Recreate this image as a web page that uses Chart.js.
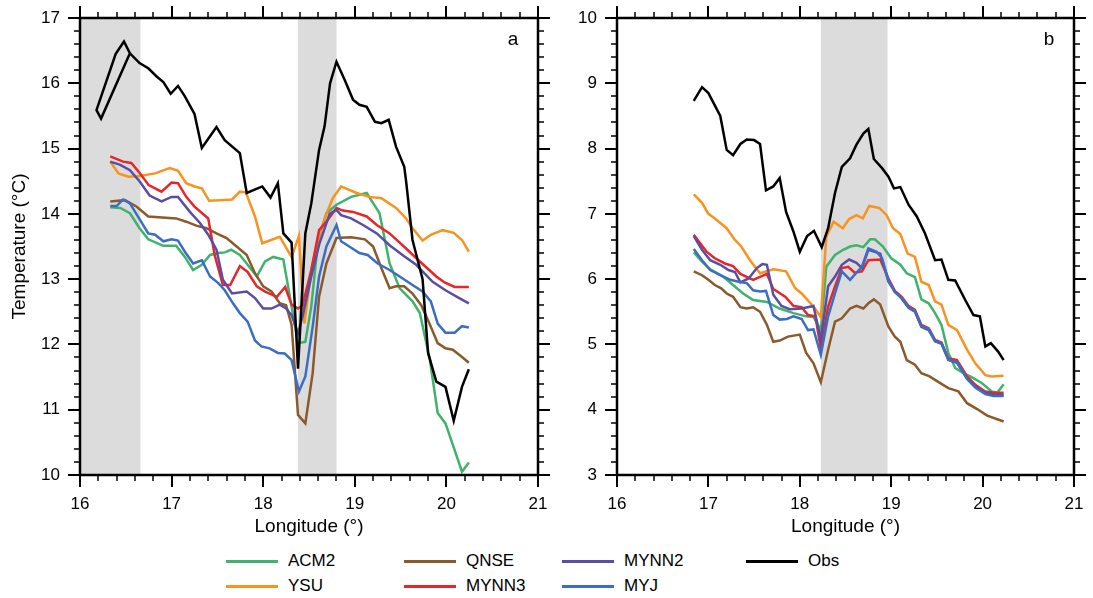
<!DOCTYPE html>
<html>
<head>
<meta charset="utf-8">
<script src="https://cdn.jsdelivr.net/npm/chart.js@4.4.0/dist/chart.umd.min.js"></script>
<style>
  body { margin: 0; width: 1093px; height: 598px; background: #fff; overflow: hidden; position: relative;
         font-family: "Liberation Sans", Arial, sans-serif; }
  #ca { position: absolute; left: 0; top: 0; }
  #cb { position: absolute; left: 550px; top: 0; }
  .leg { position: absolute; height: 20px; display: flex; align-items: center; font-size: 17px; color: #000; }
  .leg .ln { display: inline-block; width: 52px; height: 3px; margin-right: 10px; }
</style>
</head>
<body>
<canvas id="ca" width="550" height="545"></canvas>
<canvas id="cb" width="543" height="545"></canvas>
<div id="legend"></div>

<script>
// ---- panel a : [longitude, temperature] ----
const obsA = [[16.545,16.46],[16.23,15.46],[16.18,15.59],[16.39,16.45],[16.48,16.64],[16.545,16.46],[16.65,16.31],[16.745,16.23],[16.84,16.10],[16.91,16.02],[16.99,15.84],[17.07,15.96],[17.145,15.80],[17.25,15.53],[17.33,15.01],[17.49,15.33],[17.58,15.13],[17.745,14.93],[17.82,14.32],[17.99,14.42],[18.08,14.25],[18.16,14.47],[18.22,13.70],[18.31,13.56],[18.38,11.63],[18.46,13.70],[18.525,14.16],[18.61,14.98],[18.67,15.34],[18.73,16.0],[18.80,16.33],[18.89,16.05],[18.98,15.75],[19.05,15.67],[19.13,15.64],[19.22,15.41],[19.29,15.39],[19.37,15.44],[19.45,15.03],[19.54,14.72],[19.56,14.5],[19.63,13.6],[19.74,13.0],[19.80,11.87],[19.89,11.43],[19.99,11.35],[20.08,10.83],[20.17,11.35],[20.245,11.62]];
const acm2A = [[16.33,14.10],[16.44,14.09],[16.545,14.01],[16.65,13.78],[16.745,13.61],[16.91,13.51],[17.05,13.51],[17.145,13.34],[17.235,13.14],[17.33,13.22],[17.42,13.37],[17.51,13.40],[17.58,13.41],[17.65,13.45],[17.745,13.37],[17.83,13.22],[17.93,13.04],[18.02,13.27],[18.11,13.34],[18.22,13.30],[18.38,12.02],[18.46,12.04],[18.525,12.58],[18.60,13.60],[18.69,14.01],[18.80,14.14],[18.96,14.26],[19.13,14.32],[19.27,14.01],[19.38,13.24],[19.49,12.86],[19.63,12.66],[19.71,12.48],[19.82,11.76],[19.905,10.95],[19.99,10.79],[20.09,10.38],[20.17,10.05],[20.245,10.19]];
const ysuA = [[16.33,14.80],[16.42,14.62],[16.53,14.57],[16.65,14.58],[16.82,14.62],[16.98,14.70],[17.07,14.66],[17.16,14.47],[17.25,14.42],[17.33,14.39],[17.41,14.20],[17.53,14.21],[17.66,14.22],[17.745,14.34],[17.81,14.33],[17.91,13.96],[17.99,13.55],[18.18,13.65],[18.31,13.34],[18.39,13.66],[18.45,12.32],[18.525,13.14],[18.60,13.63],[18.69,14.0],[18.76,14.24],[18.85,14.42],[19.02,14.32],[19.16,14.26],[19.29,14.24],[19.45,14.09],[19.56,13.93],[19.63,13.78],[19.74,13.59],[19.83,13.68],[19.96,13.75],[20.08,13.71],[20.17,13.60],[20.245,13.42]];
const qnseA = [[16.33,14.19],[16.49,14.21],[16.62,14.11],[16.745,13.96],[17.05,13.93],[17.16,13.88],[17.27,13.82],[17.38,13.78],[17.49,13.70],[17.60,13.63],[17.71,13.50],[17.82,13.37],[17.91,13.09],[18.0,12.89],[18.09,12.81],[18.18,12.63],[18.25,12.60],[18.31,12.30],[18.38,10.92],[18.46,10.79],[18.54,11.56],[18.61,12.73],[18.69,13.24],[18.80,13.63],[18.96,13.64],[19.11,13.61],[19.20,13.50],[19.29,13.17],[19.38,12.86],[19.45,12.89],[19.54,12.89],[19.63,12.78],[19.725,12.60],[19.815,12.32],[19.905,12.02],[19.99,11.94],[20.07,11.92],[20.16,11.82],[20.245,11.72]];
const mynn3A = [[16.33,14.88],[16.47,14.80],[16.56,14.78],[16.65,14.63],[16.75,14.44],[16.89,14.34],[17.0,14.48],[17.07,14.47],[17.16,14.26],[17.25,14.11],[17.40,13.93],[17.47,13.37],[17.56,12.91],[17.64,12.91],[17.745,13.20],[17.83,13.11],[17.93,12.89],[18.02,12.81],[18.15,12.73],[18.24,12.88],[18.31,12.61],[18.38,12.55],[18.43,12.60],[18.525,13.14],[18.61,13.75],[18.69,13.88],[18.80,14.09],[18.87,14.05],[18.98,14.03],[19.13,13.96],[19.24,13.83],[19.38,13.70],[19.56,13.47],[19.71,13.27],[19.89,13.04],[19.98,12.95],[20.09,12.88],[20.245,12.88]];
const mynn2A = [[16.33,14.80],[16.44,14.75],[16.545,14.67],[16.65,14.50],[16.76,14.28],[16.89,14.19],[17.0,14.26],[17.07,14.26],[17.20,14.03],[17.31,13.86],[17.40,13.68],[17.49,13.45],[17.56,12.99],[17.66,12.78],[17.82,12.81],[17.91,12.71],[18.0,12.55],[18.09,12.55],[18.18,12.61],[18.25,12.55],[18.31,12.45],[18.38,12.17],[18.43,12.43],[18.525,13.04],[18.615,13.55],[18.725,14.0],[18.80,14.06],[18.85,13.98],[18.96,13.93],[19.09,13.83],[19.24,13.70],[19.38,13.52],[19.52,13.37],[19.67,13.22],[19.85,12.96],[19.99,12.83],[20.14,12.71],[20.245,12.63]];
const myjA = [[16.33,14.12],[16.40,14.12],[16.47,14.22],[16.545,14.16],[16.65,13.92],[16.745,13.70],[16.82,13.68],[16.91,13.58],[17.0,13.61],[17.07,13.59],[17.145,13.42],[17.235,13.24],[17.33,13.29],[17.42,13.04],[17.51,12.94],[17.58,12.83],[17.67,12.63],[17.745,12.48],[17.83,12.35],[17.91,12.06],[17.98,11.97],[18.07,11.94],[18.16,11.87],[18.235,11.86],[18.31,11.76],[18.39,11.28],[18.46,11.51],[18.54,12.27],[18.61,13.04],[18.69,13.50],[18.80,13.83],[18.85,13.58],[18.94,13.50],[19.05,13.40],[19.14,13.37],[19.25,13.24],[19.38,13.14],[19.49,13.04],[19.63,12.91],[19.74,12.81],[19.83,12.66],[19.905,12.32],[19.99,12.18],[20.09,12.18],[20.17,12.28],[20.245,12.26]];

// ---- panel b ----
const obsB = [[16.84,8.73],[16.93,8.94],[17.0,8.85],[17.13,8.50],[17.20,7.98],[17.27,7.90],[17.35,8.07],[17.42,8.14],[17.50,8.13],[17.565,8.07],[17.63,7.36],[17.71,7.42],[17.78,7.55],[17.85,7.03],[17.93,6.73],[18.0,6.42],[18.08,6.66],[18.155,6.74],[18.24,6.49],[18.31,6.78],[18.385,7.32],[18.46,7.72],[18.55,7.85],[18.62,8.06],[18.695,8.23],[18.75,8.30],[18.81,7.84],[18.90,7.70],[18.97,7.57],[19.03,7.39],[19.10,7.41],[19.19,7.14],[19.28,6.96],[19.37,6.70],[19.48,6.29],[19.55,6.30],[19.625,5.99],[19.70,5.98],[19.81,5.68],[19.90,5.45],[19.97,5.43],[20.03,4.97],[20.09,5.02],[20.17,4.89],[20.23,4.76]];
const acm2B = [[16.84,6.41],[16.93,6.27],[17.02,6.15],[17.16,6.04],[17.27,5.91],[17.38,5.78],[17.49,5.68],[17.64,5.65],[17.78,5.55],[17.93,5.48],[18.07,5.43],[18.15,5.42],[18.23,5.22],[18.29,6.19],[18.385,6.37],[18.475,6.45],[18.55,6.50],[18.62,6.52],[18.695,6.49],[18.77,6.61],[18.82,6.61],[18.91,6.50],[19.0,6.32],[19.10,6.22],[19.17,6.09],[19.26,6.03],[19.33,5.69],[19.41,5.63],[19.48,5.48],[19.55,5.30],[19.625,4.87],[19.70,4.64],[19.79,4.56],[19.88,4.50],[19.99,4.41],[20.10,4.28],[20.16,4.26],[20.23,4.39]];
const ysuB = [[16.84,7.30],[16.93,7.17],[17.0,7.0],[17.07,6.93],[17.20,6.78],[17.29,6.60],[17.36,6.50],[17.455,6.29],[17.565,6.09],[17.71,6.15],[17.85,6.12],[17.95,5.86],[18.02,5.78],[18.15,5.58],[18.23,5.42],[18.29,6.65],[18.37,6.88],[18.47,6.78],[18.54,6.92],[18.62,6.98],[18.69,6.93],[18.76,7.12],[18.87,7.09],[18.95,6.98],[19.02,6.78],[19.10,6.69],[19.18,6.39],[19.26,6.34],[19.33,5.96],[19.41,5.91],[19.48,5.66],[19.55,5.61],[19.625,5.30],[19.72,5.22],[19.83,4.92],[19.92,4.71],[20.03,4.53],[20.10,4.51],[20.23,4.52]];
const qnseB = [[16.84,6.12],[16.93,6.06],[17.0,5.99],[17.07,5.91],[17.14,5.86],[17.20,5.78],[17.27,5.73],[17.35,5.57],[17.42,5.55],[17.49,5.57],[17.565,5.50],[17.64,5.30],[17.71,5.04],[17.78,5.06],[17.87,5.12],[18.0,5.15],[18.07,4.87],[18.15,4.71],[18.23,4.42],[18.31,4.92],[18.385,5.35],[18.46,5.40],[18.55,5.55],[18.62,5.59],[18.695,5.55],[18.75,5.63],[18.81,5.69],[18.88,5.61],[18.97,5.27],[19.04,5.12],[19.10,5.04],[19.17,4.76],[19.26,4.69],[19.33,4.56],[19.42,4.51],[19.51,4.43],[19.625,4.33],[19.735,4.28],[19.83,4.10],[19.94,4.01],[20.05,3.91],[20.23,3.82]];
const mynn3B = [[16.84,6.68],[16.91,6.55],[16.98,6.42],[17.07,6.32],[17.18,6.24],[17.27,6.20],[17.35,6.08],[17.49,5.99],[17.64,6.08],[17.71,5.85],[17.84,5.73],[17.93,5.59],[18.02,5.57],[18.09,5.45],[18.17,5.43],[18.23,4.94],[18.31,5.58],[18.385,5.89],[18.46,6.17],[18.53,6.19],[18.60,6.10],[18.68,6.12],[18.75,6.29],[18.88,6.30],[18.97,6.01],[19.04,5.82],[19.115,5.73],[19.19,5.59],[19.26,5.53],[19.33,5.30],[19.41,5.25],[19.48,5.07],[19.55,5.03],[19.625,4.79],[19.72,4.76],[19.83,4.51],[19.92,4.38],[20.03,4.28],[20.12,4.26],[20.23,4.26]];
const mynn2B = [[16.84,6.66],[16.93,6.45],[17.02,6.29],[17.13,6.22],[17.22,6.14],[17.29,6.11],[17.35,5.95],[17.44,6.01],[17.53,6.17],[17.59,6.23],[17.64,6.22],[17.71,5.76],[17.80,5.59],[17.89,5.54],[18.02,5.55],[18.15,5.59],[18.23,5.07],[18.31,5.89],[18.385,6.04],[18.46,6.22],[18.54,6.30],[18.62,6.25],[18.68,6.17],[18.75,6.45],[18.88,6.39],[18.97,5.96],[19.04,5.81],[19.115,5.70],[19.19,5.56],[19.26,5.50],[19.33,5.27],[19.41,5.22],[19.48,5.05],[19.55,5.01],[19.625,4.76],[19.72,4.72],[19.83,4.48],[19.92,4.35],[20.03,4.26],[20.12,4.23],[20.23,4.23]];
const myjB = [[16.84,6.46],[16.93,6.29],[17.02,6.14],[17.13,6.06],[17.24,5.99],[17.33,5.96],[17.42,5.94],[17.49,5.83],[17.565,5.81],[17.63,5.82],[17.71,5.45],[17.78,5.38],[17.86,5.39],[17.93,5.43],[18.02,5.39],[18.09,5.22],[18.15,5.23],[18.23,4.84],[18.31,5.43],[18.385,5.78],[18.46,6.12],[18.55,5.99],[18.62,6.10],[18.68,6.19],[18.75,6.47],[18.84,6.42],[18.90,6.32],[18.97,5.98],[19.04,5.80],[19.115,5.71],[19.19,5.57],[19.26,5.51],[19.33,5.28],[19.41,5.24],[19.48,5.05],[19.55,5.02],[19.625,4.77],[19.72,4.73],[19.83,4.47],[19.92,4.34],[20.03,4.24],[20.12,4.21],[20.23,4.21]];

// grey bands (longitude ranges)
const shadeA = [[16.0, 16.66], [18.38, 18.80]];
const shadeB = [[18.23, 18.96]];

const xRange = [16, 21];
const yRangeA = [10, 17];
const yRangeB = [3, 10];

const seriesNames = ["ACM2", "YSU", "QNSE", "MYNN3", "MYNN2", "MYJ", "Obs"];
const seriesColors = {
  ACM2: "#3fb36b",
  YSU: "#f7931e",
  QNSE: "#8b5a2b",
  MYNN3: "#e8262a",
  MYNN2: "#5a4ea2",
  MYJ: "#3b6ec2",
  Obs: "#000000"
};
const legendRows = [["ACM2", "QNSE", "MYNN2", "Obs"], ["YSU", "MYNN3", "MYJ"]];

const FONT = "'Liberation Sans', Arial, sans-serif";

// frame, outward ticks, grey bands, panel letter
const framePlugin = {
  id: "frame",
  beforeDatasetsDraw(chart, args, opts) {
    const { ctx, chartArea: a, scales: { x } } = chart;
    ctx.save();
    ctx.fillStyle = "#dcdcdc";
    (opts.shade || []).forEach(([s, e]) => {
      const x0 = x.getPixelForValue(s), x1 = x.getPixelForValue(e);
      ctx.fillRect(x0, a.top, x1 - x0, a.bottom - a.top);
    });
    ctx.restore();
  },
  afterDatasetsDraw(chart, args, opts) {
    const { ctx, chartArea: a, scales: { x, y } } = chart;
    ctx.save();
    ctx.strokeStyle = "#000";
    const seg = (x0, y0, x1, y1) => { ctx.beginPath(); ctx.moveTo(x0, y0); ctx.lineTo(x1, y1); ctx.stroke(); };

    const nx = Math.round((x.max - x.min) * 5);
    for (let i = 0; i <= nx; i++) {
      const px = Math.round(x.getPixelForValue(x.min + i * 0.2));
      const major = i % 5 === 0;
      const L = major ? 12 : 6;
      ctx.lineWidth = major ? 2 : 1.5;
      seg(px, a.top, px, a.top - L);
      seg(px, a.bottom, px, a.bottom + L);
    }
    const ny = Math.round((y.max - y.min) * 5);
    for (let i = 0; i <= ny; i++) {
      const py = Math.round(y.getPixelForValue(y.min + i * 0.2));
      const major = i % 5 === 0;
      const L = major ? 12 : 6;
      ctx.lineWidth = major ? 2 : 1.5;
      seg(a.left, py, a.left - L, py);
      seg(a.right, py, a.right + L, py);
    }

    ctx.lineWidth = 2.5;
    ctx.strokeRect(a.left, a.top, a.right - a.left, a.bottom - a.top);

    ctx.fillStyle = "#000";
    ctx.font = "19px " + FONT;
    ctx.textAlign = "center";
    ctx.textBaseline = "middle";
    ctx.fillText(opts.letter, a.right - 25, a.top + 22);
    ctx.restore();
  }
};

function makeDatasets(sets) {
  return seriesNames.map((name, i) => ({
    label: name,
    data: sets[name].map(([lon, t]) => ({ x: lon, y: t })),
    borderColor: seriesColors[name],
    borderWidth: 2.5,
    pointRadius: 0,
    fill: false,
    tension: 0,
    order: name === "Obs" ? 0 : seriesNames.length - i
  }));
}

function makeChart(id, sets, yRange, shade, letter, yWidth, padRight, yTitle) {
  return new Chart(document.getElementById(id), {
    type: "line",
    data: { datasets: makeDatasets(sets) },
    options: {
      responsive: false,
      animation: false,
      layout: { padding: { top: 18, right: padRight, left: 0, bottom: 0 } },
      plugins: {
        legend: { display: false },
        tooltip: { enabled: false },
        frame: { shade, letter }
      },
      scales: {
        x: {
          type: "linear",
          min: xRange[0],
          max: xRange[1],
          grid: { display: false, drawTicks: false },
          border: { display: false },
          ticks: { stepSize: 1, padding: 19, color: "#000", font: { size: 17, family: FONT } },
          title: { display: true, text: "Longitude (°)", color: "#000", font: { size: 19, family: FONT }, padding: { top: 0, bottom: 7 } },
          afterFit(s) { s.height = 70; s.paddingLeft = 0; s.paddingRight = 0; }
        },
        y: {
          type: "linear",
          min: yRange[0],
          max: yRange[1],
          grid: { display: false, drawTicks: false },
          border: { display: false },
          ticks: { stepSize: 1, padding: 20, color: "#000", font: { size: 17, family: FONT } },
          title: { display: !!yTitle, text: yTitle || "", color: "#000", font: { size: 19, family: FONT }, padding: { top: 8, bottom: 0 } },
          afterFit(s) { s.width = yWidth; s.paddingTop = 0; s.paddingBottom = 0; }
        }
      }
    },
    plugins: [framePlugin]
  });
}

makeChart("ca",
  { ACM2: acm2A, YSU: ysuA, QNSE: qnseA, MYNN3: mynn3A, MYNN2: mynn2A, MYJ: myjA, Obs: obsA },
  yRangeA, shadeA, "a", 80, 12, "Temperature (°C)");

makeChart("cb",
  { ACM2: acm2B, YSU: ysuB, QNSE: qnseB, MYNN3: mynn3B, MYNN2: mynn2B, MYJ: myjB, Obs: obsB },
  yRangeB, shadeB, "b", 67, 19, null);

// legend
const legCols = [226, 404, 562, 746];
const legRowsY = [551, 576];
const legend = document.getElementById("legend");
legendRows.forEach((row, r) => {
  row.forEach((name, c) => {
    const d = document.createElement("div");
    d.className = "leg";
    d.style.left = legCols[c] + "px";
    d.style.top = legRowsY[r] + "px";
    d.innerHTML = `<span class="ln" style="background:${seriesColors[name]}"></span><span>${name}</span>`;
    legend.appendChild(d);
  });
});
</script>
</body>
</html>
